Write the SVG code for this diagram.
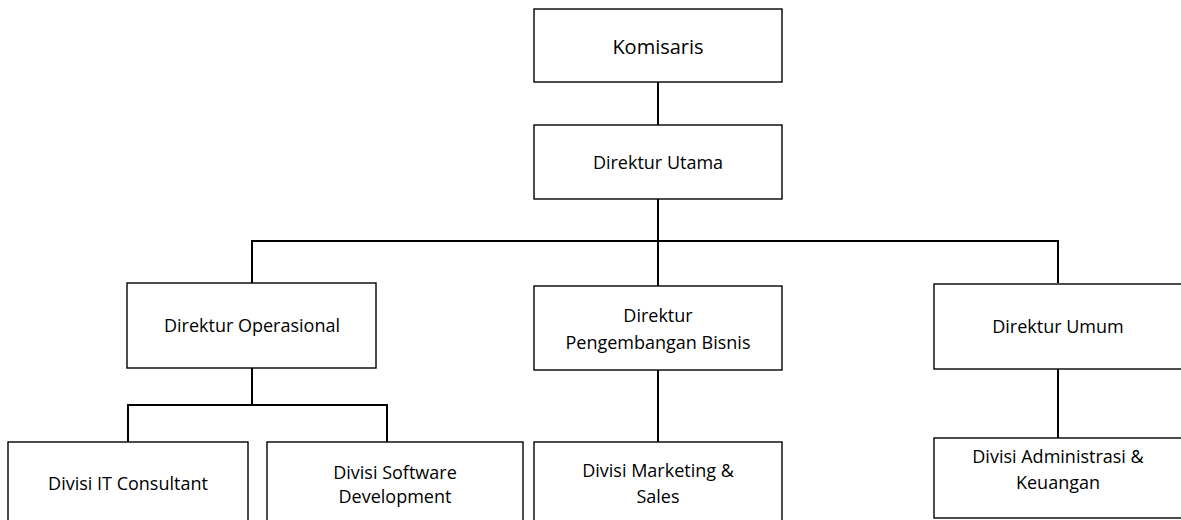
<svg xmlns="http://www.w3.org/2000/svg" width="1181" height="520" viewBox="0 0 1181 520">
<style>
.box{fill:#fff;stroke:#000;stroke-width:1.4}
.t{font-family:"Open Sans","Liberation Sans",sans-serif;font-size:18px;fill:#000;text-anchor:middle}
.big{font-size:20px}
.c{fill:none;stroke:#000;stroke-width:2}
</style>
<rect width="1181" height="520" fill="#fff"/>
<g id="connectors">
<line class="c" x1="658" y1="82" x2="658" y2="125"/>
<line class="c" x1="658" y1="199" x2="658" y2="286" stroke-width="2.6"/>
<polyline class="c" points="252,283 252,241 1058,241 1058,283"/>
<line class="c" x1="252" y1="368" x2="252" y2="405"/>
<polyline class="c" points="128,442 128,405 387,405 387,442"/>
<line class="c" x1="658" y1="370" x2="658" y2="442"/>
<line class="c" x1="1058" y1="369" x2="1058" y2="438"/>
</g>
<g id="komisaris"><rect class="box" x="534" y="9" width="248" height="73"/><text class="t big" x="658" y="54">Komisaris</text></g>
<g id="direktur-utama"><rect class="box" x="534" y="125" width="248" height="74"/><text class="t" x="658" y="169">Direktur Utama</text></g>
<g id="direktur-operasional"><rect class="box" x="127" y="283" width="249" height="85"/><text class="t" x="252" y="332">Direktur Operasional</text></g>
<g id="direktur-pengembangan"><rect class="box" x="534" y="286" width="248" height="84"/><text class="t" x="658" y="322">Direktur</text><text class="t" x="658" y="349">Pengembangan Bisnis</text></g>
<g id="direktur-umum"><rect class="box" x="934" y="284" width="248" height="85"/><text class="t" x="1058" y="333">Direktur Umum</text></g>
<g id="divisi-it"><rect class="box" x="8" y="442" width="240" height="84"/><text class="t" x="128" y="490">Divisi IT Consultant</text></g>
<g id="divisi-software"><rect class="box" x="267" y="442" width="256" height="84"/><text class="t" x="395" y="479">Divisi Software</text><text class="t" x="395" y="503">Development</text></g>
<g id="divisi-marketing"><rect class="box" x="534" y="442" width="248" height="84"/><text class="t" x="658" y="477">Divisi Marketing &amp;</text><text class="t" x="658" y="503">Sales</text></g>
<g id="divisi-admin"><rect class="box" x="934" y="438" width="248" height="80"/><text class="t" x="1058" y="463">Divisi Administrasi &amp;</text><text class="t" x="1058" y="489">Keuangan</text></g>
</svg>
